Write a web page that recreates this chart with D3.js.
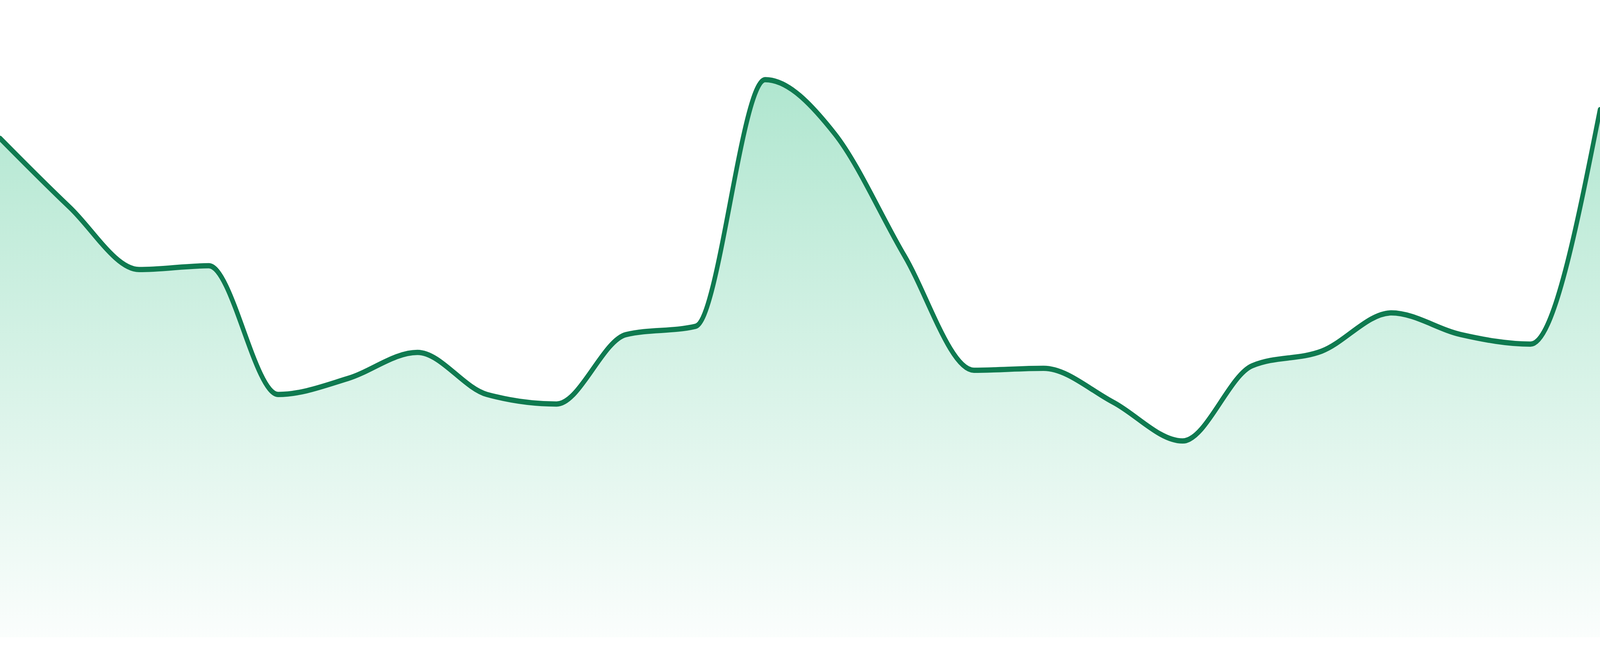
<!DOCTYPE html>
<html>
<head>
<meta charset="utf-8">
<script src="https://cdn.jsdelivr.net/npm/d3@7"></script>
<style>
  html, body { margin: 0; padding: 0; background: #fff; overflow: hidden; }
  svg { display: block; width: 100vw; height: 100vh; }
</style>
</head>
<body>
<svg viewBox="0 0 4800 1680" preserveAspectRatio="none"></svg>
<script>
var hours = ["00:00", "01:00", "02:00", "03:00", "04:00", "05:00", "06:00", "07:00",
             "08:00", "09:00", "10:00", "11:00", "12:00", "13:00", "14:00", "15:00",
             "16:00", "17:00", "18:00", "19:00", "20:00", "21:00", "22:00", "23:00"];

var values = [78.3, 67.5, 57.7, 58.3, 38.1, 40.6, 44.7, 38.1,
              36.6, 47.5, 48.8, 87.5, 79.0, 59.9, 41.9, 42.2,
              36.9, 30.8, 42.6, 44.9, 50.9, 47.5, 46.0, 82.8];

// drawing is laid out in a 4800x1680 box and stretched to the window
var width = 4800,
    height = 1680,
    bottom = 48;

var svg = d3.select("svg");

var x = d3.scalePoint()
    .domain(hours)
    .range([0, width]);

var y = d3.scaleLinear()
    .domain([0, 100])
    .range([height - bottom, 0]);

var data = hours.map(function(h, i) { return {hour: h, value: values[i]}; });

// soft green fade under the line
var grad = svg.append("defs").append("linearGradient")
    .attr("id", "fade")
    .attr("x1", 0).attr("y1", 0)
    .attr("x2", 0).attr("y2", 1);

grad.append("stop")
    .attr("offset", "0%")
    .attr("stop-color", "#1db877")
    .attr("stop-opacity", 0.35);

grad.append("stop")
    .attr("offset", "100%")
    .attr("stop-color", "#1db877")
    .attr("stop-opacity", 0.02);

var area = d3.area()
    .x(function(d) { return x(d.hour); })
    .y0(y(0))
    .y1(function(d) { return y(d.value); })
    .curve(d3.curveMonotoneX);

var line = d3.line()
    .x(function(d) { return x(d.hour); })
    .y(function(d) { return y(d.value); })
    .curve(d3.curveMonotoneX);

svg.append("path")
    .datum(data)
    .attr("d", area)
    .style("fill", "url(#fade)");

svg.append("path")
    .datum(data)
    .attr("d", line)
    .style("fill", "none")
    .style("stroke", "#0f7a50")
    .style("stroke-width", 13.5)
    .style("stroke-linecap", "round")
    .style("stroke-linejoin", "round");
</script>
</body>
</html>
